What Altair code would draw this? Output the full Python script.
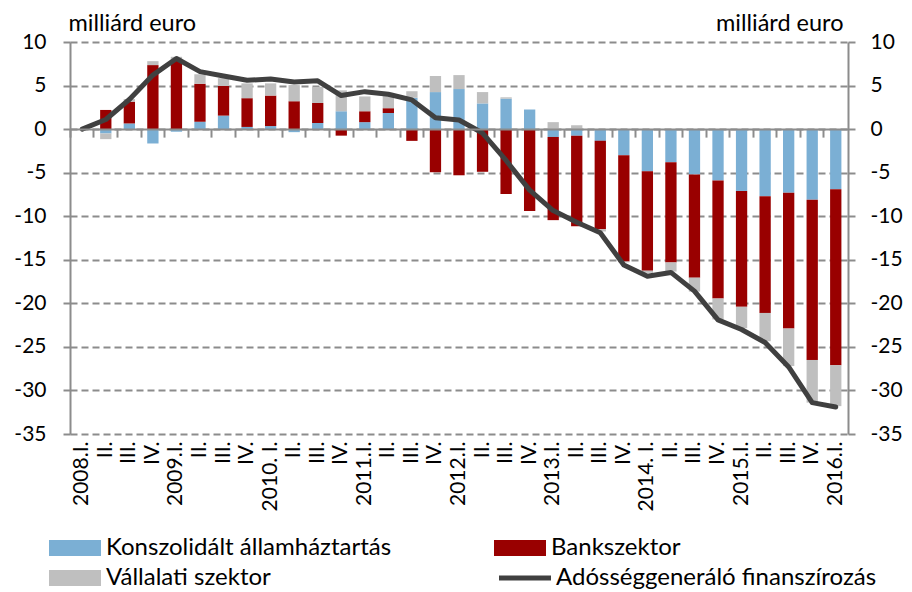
import altair as alt
import pandas as pd

FONT = "Lato"
FS = 21
TFS = 24
GRID = "#8c8c8c"

labels = ["2008.I.", "II.", "III.", "IV.", "2009.I.", "II.", "III.", "IV.",
          "2010. I.", "II.", "III.", "IV.", "2011.I.", "II.", "III.", "IV.",
          "2012.I.", "II.", "III.", "IV.", "2013.I.", "II.", "III.", "IV.",
          "2014. I.", "II.", "III.", "IV.", "2015.I.", "II.", "III.", "IV.",
          "2016.I."]
keys = [f"{2008 + i // 4}Q{i % 4 + 1}" for i in range(len(labels))]

kons = [0, -0.5, 0.65, -1.65, -0.3, 0.85, 1.55, 0.25, 0.35, -0.35, 0.7, 2.05,
        0.8, 1.85, 3.6, 4.25, 4.6, 2.95, 3.5, 2.25, -0.9, -0.75, -1.35, -3.0,
        -4.85, -3.8, -5.2, -5.9, -7.1, -7.7, -7.3, -8.1, -6.9]
bank = [0, 2.2, 2.5, 7.35, 7.9, 4.35, 3.4, 3.3, 3.5, 3.2, 2.3, -0.75,
        1.25, 0.55, -1.35, -4.95, -5.3, -4.9, -7.45, -9.4, -9.55, -10.4, -10.15, -12.2,
        -11.4, -11.5, -11.85, -13.55, -13.3, -13.4, -15.6, -18.4, -20.2]
vall = [0, -0.65, 0.3, 0.45, 0.4, 1.1, 0.9, 1.7, 1.4, 1.85, 1.85, 2.4,
        1.7, 1.4, 0.75, 1.85, 1.6, 1.3, 0.15, 0, 0.8, 0.45, -0.25, -0.1,
        -0.25, -1.05, -1.6, -2.4, -2.45, -3.25, -4.3, -4.9, -4.7]
adossag = [0, 1.1, 3.4, 6.2, 8.1, 6.6, 6.1, 5.6, 5.75, 5.4, 5.55, 3.85,
           4.3, 4.0, 3.35, 1.3, 1.05, -0.45, -3.6, -7.0, -9.35, -10.7, -11.9, -15.6,
           -16.9, -16.45, -18.6, -21.9, -23.0, -24.5, -27.3, -31.4, -31.9]

# stacking order of the bars (from the zero line outwards)
bar_names = ["Konszolidált államháztartás", "Bankszektor", "Vállalati szektor"]
# legend order (legend is laid out column by column)
legend_names = ["Konszolidált államháztartás", "Vállalati szektor", "Bankszektor"]
legend_colors = ["#7bafd4", "#bfbfbf", "#990000"]
line_name = "Adósséggeneráló finanszírozás"
line_color = "#404040"
y_ticks = [10, 5, 0, -5, -10, -15, -20, -25, -30, -35]

rows = []
for ord_, (name, vals) in enumerate(zip(bar_names, [kons, bank, vall])):
    for k, v in zip(keys, vals):
        rows.append({"key": k, "series": name, "value": v, "ord": ord_})
bar_df = pd.DataFrame(rows)
line_df = pd.DataFrame({"key": keys, "value": adossag, "lseries": line_name})

W, H = 778, 392
YMIN, YMAX = -35, 10

label_expr = ("[" + ",".join(f"'{l}'" for l in labels) + "][indexof(["
              + ",".join(f"'{k}'" for k in keys) + "], datum.value)]")

xscale = alt.Scale(paddingInner=0.52, paddingOuter=0.28)
yscale = alt.Scale(domain=[YMIN, YMAX], nice=False, zero=False)

LEG_Y = 494
bar_legend = alt.Legend(
    title=None, orient="none", legendX=-7, legendY=LEG_Y, columns=2,
    labelFont=FONT, labelFontSize=TFS, labelColor="black", labelLimit=500,
    symbolSize=256, symbolType="M-3.25,-1H3.25V1H-3.25Z", symbolStrokeWidth=0,
    symbolOpacity=1, labelOffset=19, columnPadding=102, rowPadding=6,
)
line_legend = alt.Legend(
    title=None, orient="none", legendX=443, legendY=LEG_Y + 30,
    labelFont=FONT, labelFontSize=TFS, labelColor="black", labelLimit=500,
    symbolSize=256, symbolType="M-3.25,0H3.25", symbolStrokeWidth=5,
    symbolOpacity=1, labelOffset=19,
)

y_common = dict(
    values=y_ticks, labelExpr="'' + datum.value", labelFont=FONT, labelFontSize=FS,
    labelColor="black", domainColor=GRID, domainWidth=2, tickColor=GRID, tickWidth=2,
    tickSize=7, titleFont=FONT, titleFontSize=23.5, titleFontWeight="normal",
    titleColor="black", titleAngle=0, titleY=-12, titleBaseline="alphabetic",
)

bars = alt.Chart(bar_df).mark_bar().encode(
    x=alt.X("key:N", sort=keys, scale=xscale,
            axis=alt.Axis(title=None, orient="bottom", labelExpr=label_expr, labelAngle=270,
                          labelAlign="right", labelBaseline="middle", labelPadding=7,
                          domain=False, ticks=False, grid=False, labelFont=FONT,
                          labelFontSize=FS, labelColor="black")),
    y=alt.Y("value:Q", stack="zero", scale=yscale,
            axis=alt.Axis(title="milliárd euro", orient="left", titleX=-2,
                          titleAlign="left", labelPadding=17, grid=True,
                          gridDash=[7, 4], gridColor=GRID, gridWidth=2, **y_common)),
    color=alt.Color("series:N", scale=alt.Scale(domain=legend_names, range=legend_colors),
                    legend=bar_legend),
    order=alt.Order("ord:Q"),
)

# zero line with category tick marks, drawn as a bottom axis lifted to y = 0
line = alt.Chart(line_df).mark_line(strokeWidth=5, strokeCap="round", strokeJoin="round").encode(
    x=alt.X("key:N", sort=keys, scale=xscale,
            axis=alt.Axis(title=None, orient="bottom", labels=False, ticks=True, tickSize=8,
                          tickColor=GRID, tickWidth=2, domain=True, domainColor=GRID,
                          domainWidth=2, grid=False,
                          offset=-(H * (0 - YMIN) / (YMAX - YMIN)),
                          bandPosition=-0.544, zindex=1)),
    y=alt.Y("value:Q", scale=yscale,
            axis=alt.Axis(title="milliárd euro", orient="right", titleX=-5,
                          titleAlign="right", labelPadding=15, grid=False, **y_common)),
    color=alt.Color("lseries:N", scale=alt.Scale(domain=[line_name], range=[line_color]),
                    legend=line_legend),
)

chart = alt.layer(bars, line).resolve_axis(x="independent", y="independent").resolve_scale(
    color="independent"
).properties(
    width=W, height=H,
    autosize=alt.AutoSizeParams(type="none"),
    padding={"left": 62, "top": 34, "right": 56, "bottom": 156},
    background="white",
).configure_view(stroke=None)

chart.save("out.html", embed_options={"renderer": "svg", "actions": False})
